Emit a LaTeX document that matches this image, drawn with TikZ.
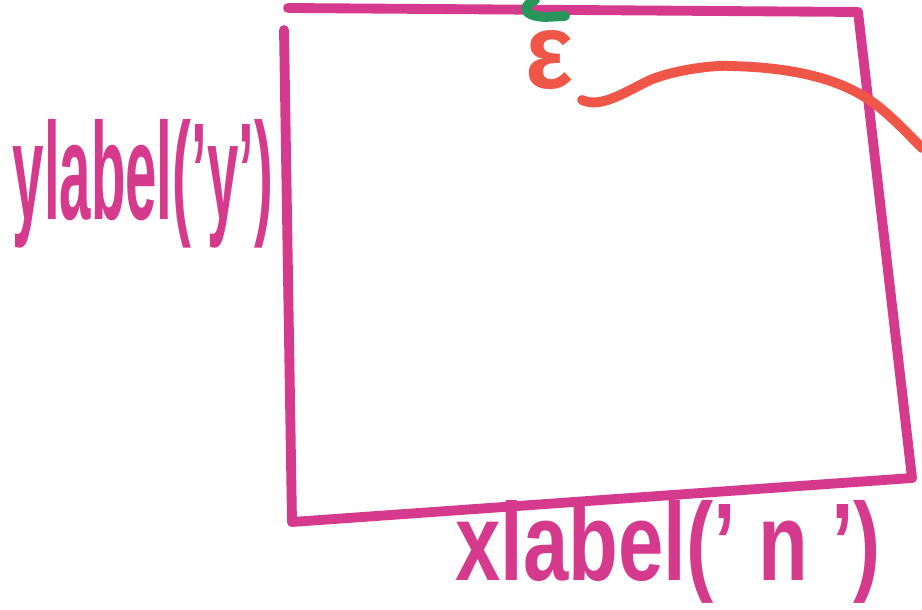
\documentclass[tikz,border=0pt]{standalone}
\usepackage{fontspec}
\setmainfont{Liberation Sans}
\definecolor{pinkpen}{RGB}{214,58,140}
\definecolor{redpen}{RGB}{240,86,72}
\definecolor{greenpen}{RGB}{40,150,90}
\tikzset{
  pen/.style={line width=2.8pt, line cap=round, line join=round},
  handtext/.style={text=pinkpen, font=\bfseries, inner sep=0pt}
}
\begin{document}
\begin{tikzpicture}[x=0.01cm,y=-0.01cm]
\useasboundingbox (0,0) rectangle (922,610);
% box corners
\coordinate (tl) at (284,30);
\coordinate (tt) at (288,8);
\coordinate (tr) at (858,12);
\coordinate (bl) at (292,522);
\coordinate (br) at (912,478);
\draw[pen,pinkpen] (tt) -- (tr);
\draw[pen,pinkpen] (tl) -- (bl);
\draw[pen,pinkpen] (bl) -- (br);
\draw[pen,pinkpen] (tr) -- (br);
% green mark
\draw[pen,greenpen] (535,0) .. controls (522,6) and (522,16) .. (545,17) -- (565,16);
% red epsilon
\node[text=redpen, inner sep=0pt] (eps) at (550,60) {\resizebox{0.48cm}{0.58cm}{\bfseries ε}};
% red curve
\coordinate (c0) at (582,100);
\coordinate (c1) at (730,66);
\coordinate (c2) at (922,148);
\draw[pen,redpen] (c0) .. controls (600,108) and (620,95) .. (650,80)
  .. controls (680,68) and (720,65) .. (c1)
  .. controls (820,68) and (860,90) .. (885,112)
  .. controls (900,125) and (912,138) .. (c2);
% labels
\node[handtext, anchor=west] (ylab) at (12,184) {\resizebox{2.6cm}{1.0cm}{ylabel('y')}};
\node[handtext, anchor=west] (xlab) at (455,552) {\resizebox{4.25cm}{0.8cm}{xlabel(' n ')}};
\end{tikzpicture}
\end{document}
